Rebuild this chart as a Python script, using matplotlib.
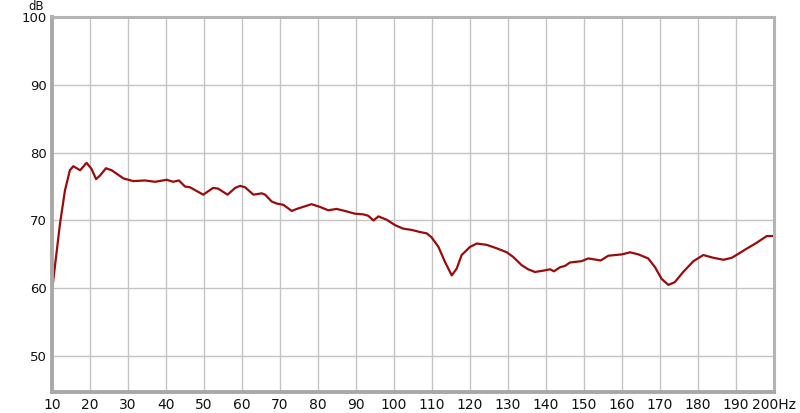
import numpy as np
import matplotlib.pyplot as plt

# frequency (Hz) and level (dB)
freq = [10.0, 12.1, 13.4, 14.7, 15.6, 17.4, 19.1, 20.4, 21.6, 22.6, 24.2, 25.7,
        28.8, 31.4, 34.5, 37.1, 40.2, 41.9, 43.4, 45.0, 46.3, 49.8, 52.4, 53.7,
        56.2, 58.2, 59.5, 60.8, 63.0, 65.2, 66.1, 67.8, 69.1, 70.9, 73.1, 74.4,
        78.3, 80.5, 82.7, 84.9, 87.1, 89.7, 91.9, 93.2, 94.6, 95.9, 98.1, 100.3,
        102.4, 104.7, 106.8, 108.6, 109.9, 111.7, 113.4, 115.2, 116.5, 117.8,
        120.0, 121.8, 124.4, 127.0, 129.7, 131.4, 133.6, 135.3, 137.1, 139.3,
        141.1, 142.1, 143.7, 145.0, 146.3, 149.4, 151.1, 154.4, 156.4, 160.0,
        162.1, 164.3, 166.9, 168.7, 170.4, 172.2, 173.9, 176.1, 178.8, 181.4,
        184.0, 186.7, 188.9, 190.7, 192.4, 195.4, 198.1, 199.8]
level = [59.6, 69.5, 74.4, 77.4, 78.0, 77.4, 78.5, 77.6, 76.1, 76.6, 77.7, 77.4,
         76.2, 75.8, 75.9, 75.7, 76.0, 75.7, 75.9, 75.0, 74.9, 73.8, 74.8, 74.7,
         73.8, 74.8, 75.1, 74.9, 73.8, 74.0, 73.8, 72.8, 72.5, 72.3, 71.4, 71.7,
         72.4, 72.0, 71.5, 71.7, 71.4, 71.0, 70.9, 70.7, 70.0, 70.6, 70.1, 69.3,
         68.8, 68.6, 68.3, 68.1, 67.5, 66.1, 63.9, 61.9, 62.9, 64.9,
         66.1, 66.6, 66.4, 65.9, 65.3, 64.6, 63.4, 62.8, 62.4, 62.6,
         62.8, 62.5, 63.1, 63.3, 63.8, 64.0, 64.4, 64.1, 64.8, 65.0,
         65.3, 65.0, 64.4, 63.1, 61.4, 60.5, 60.9, 62.4, 64.0, 64.9,
         64.5, 64.2, 64.5, 65.1, 65.7, 66.7, 67.7, 67.7]

xticks = list(range(10, 201, 10))
xlabels = [str(v) for v in xticks[:-1]] + ["200Hz"]
yticks = [50, 60, 70, 80, 90, 100]

fig = plt.figure(figsize=(8, 4.13), dpi=100)
ax = fig.add_axes([0.065, 0.0508, 0.9025, 0.9080])

ax.plot(freq, level, color="#9a0c0c", lw=1.6, solid_capstyle="round", solid_joinstyle="round")

ax.set_xlim(10, 200)
ax.set_ylim(44.7, 100)
ax.set_xticks(xticks)
ax.set_xticklabels(xlabels)
ax.set_yticks(yticks)
ax.grid(True, color="#c4c4c4", lw=1)
ax.set_axisbelow(True)
ax.tick_params(axis="x", length=0, labelsize=10, pad=4, colors="#111111")
ax.tick_params(axis="y", length=0, labelsize=9.5, pad=4, colors="#111111")

for side in ["left", "bottom"]:
    ax.spines[side].set_color("#a8a8a8")
    ax.spines[side].set_linewidth(2.8)
for side in ["top", "right"]:
    ax.spines[side].set_color("#b4b4b4")
    ax.spines[side].set_linewidth(2.2)

fig.text(44 / 800, 1.0, "dB", ha="right", va="top", fontsize=8.5, color="#111111")

fig.savefig("out.png", dpi=100)
